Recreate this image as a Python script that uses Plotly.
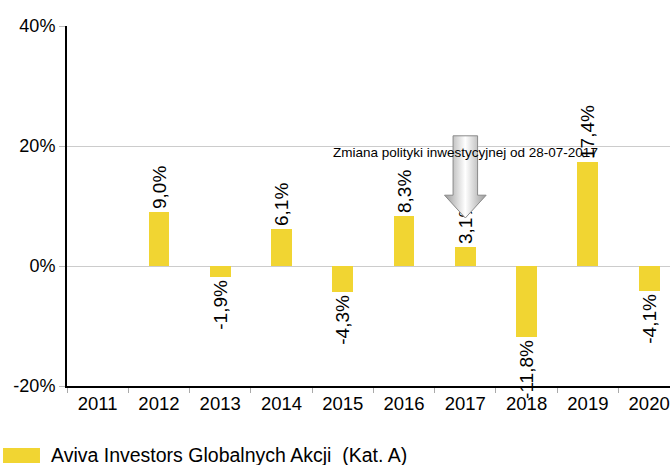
import plotly.graph_objects as go

years = ["2011", "2012", "2013", "2014", "2015", "2016", "2017", "2018", "2019", "2020"]
returns = [None, 9.0, -1.9, 6.1, -4.3, 8.3, 3.1, -11.8, 17.4, -4.1]
y_ticks = [-20, 0, 20, 40]
y_tick_labels = ["-20%", "0%", "20%", "40%"]
series_name = "Aviva Investors Globalnych Akcji  (Kat. A)"
note_text = "Zmiana polityki inwestycyjnej od 28-07-2017"
note_year = "2017"

BAR_COLOR = "#F1D532"
FONT = "Liberation Sans, Arial, sans-serif"

x_idx = list(range(len(years)))
labels = ["" if v is None else f"{v:.1f}".replace(".", ",") + "%" for v in returns]

fig = go.Figure()
fig.add_trace(go.Bar(
    x=x_idx, y=returns, width=0.34,
    marker=dict(color=BAR_COLOR, line=dict(width=0)),
    text=labels, textposition="outside", textangle=-90,
    constraintext="none", cliponaxis=False,
    textfont=dict(family=FONT, size=19, color="black"),
    name=series_name, showlegend=False, hoverinfo="skip",
))

# arrow marking the policy change (block arrow with horizontal gradient)
xi = years.index(note_year)
ax = [xi - 0.2, xi + 0.2, xi + 0.2, xi + 0.34, xi, xi - 0.34, xi - 0.2, xi - 0.2]
ay = [21.7, 21.7, 11.8, 11.8, 8.0, 11.8, 11.8, 21.7]
fig.add_trace(go.Scatter(
    x=ax, y=ay, mode="lines", fill="toself",
    fillgradient=dict(type="horizontal",
                      colorscale=[[0, "#9a9a9a"], [0.5, "#ffffff"], [1, "#9a9a9a"]]),
    line=dict(color="#8a8a8a", width=1),
    showlegend=False, hoverinfo="skip",
))

fig.add_annotation(
    x=xi, y=19, text=note_text, showarrow=False, xanchor="center", yanchor="middle",
    font=dict(family=FONT, size=13.5, color="black"),
)

# manual legend
fig.add_shape(type="rect", xref="paper", yref="paper",
              x0=-0.1061, x1=-0.0448, y0=-0.2139, y1=-0.1722,
              fillcolor=BAR_COLOR, line=dict(width=0))
fig.add_annotation(xref="paper", yref="paper", x=-0.0299, y=-0.1917,
                   text=series_name, showarrow=False, xanchor="left", yanchor="middle",
                   font=dict(family=FONT, size=19.5, color="black"))

fig.update_xaxes(
    range=[-0.5, 9.34],
    tickmode="array", tickvals=x_idx, ticktext=years, ticks="",
    tickfont=dict(family=FONT, size=18.5, color="black"),
    showgrid=False, zeroline=False,
    showline=True, linecolor="black", linewidth=2,
    minor=dict(tickmode="array", tickvals=[i - 0.5 for i in range(len(years) + 1)],
               ticks="outside", ticklen=5, tickcolor="#aaaaaa", showgrid=False),
)
fig.update_yaxes(
    range=[-20, 40],
    tickmode="array", tickvals=y_ticks, ticktext=y_tick_labels,
    ticks="outside", ticklen=6, tickcolor="#bbbbbb",
    tickfont=dict(family=FONT, size=18, color="black"),
    showgrid=True, gridcolor="#cccccc", gridwidth=1,
    zeroline=False,
    showline=True, linecolor="black", linewidth=2,
)
fig.update_layout(
    width=670, height=465,
    margin=dict(l=67, r=0, t=26, b=79),
    plot_bgcolor="white", paper_bgcolor="white",
    bargap=0, showlegend=False,
    font=dict(family=FONT, color="black"),
)

fig.write_html(
    "out.html",
    config={"displayModeBar": False},
    post_script="document.body.style.margin='0';document.body.style.overflow='hidden';",
)
